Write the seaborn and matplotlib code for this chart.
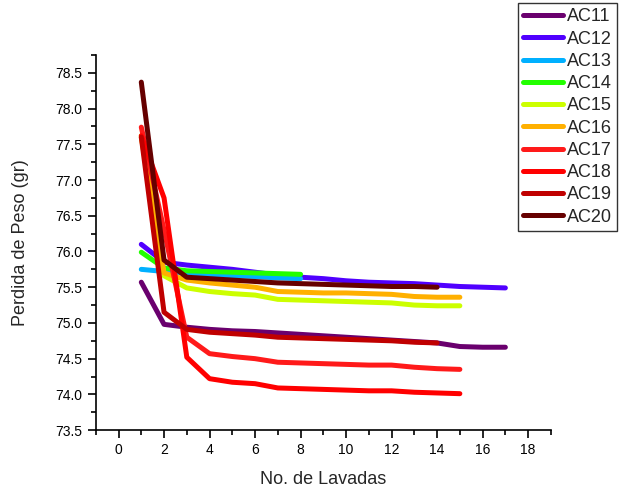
import matplotlib
matplotlib.use("Agg")
import matplotlib.pyplot as plt
import seaborn as sns
import pandas as pd

sns.set_theme(style="white")
plt.rcParams['font.family'] = ['Liberation Sans', 'DejaVu Sans']

labels = ["AC11", "AC12", "AC13", "AC14", "AC15", "AC16", "AC17", "AC18", "AC19", "AC20"]
colors = ["#6a006e", "#5000ff", "#00b0ff", "#22ff00", "#ccff00",
          "#ffb000", "#ff1a1a", "#ff0000", "#c00000", "#660000"]

ac11 = [75.57, 74.98, 74.94, 74.91, 74.89, 74.88, 74.86, 74.84, 74.82, 74.80, 74.78, 74.76, 74.74, 74.72, 74.67, 74.66, 74.66]
ac12 = [76.10, 75.85, 75.81, 75.78, 75.75, 75.71, 75.67, 75.64, 75.62, 75.59, 75.57, 75.56, 75.55, 75.53, 75.51, 75.50, 75.49]
ac13 = [75.75, 75.72, 75.70, 75.68, 75.66, 75.65, 75.63, 75.62]
ac14 = [75.99, 75.77, 75.73, 75.72, 75.71, 75.70, 75.69, 75.68]
ac15 = [77.62, 75.66, 75.49, 75.44, 75.41, 75.39, 75.33, 75.32, 75.31, 75.30, 75.29, 75.28, 75.25, 75.24, 75.24]
ac16 = [77.60, 75.70, 75.60, 75.56, 75.53, 75.50, 75.44, 75.43, 75.42, 75.42, 75.41, 75.40, 75.37, 75.36, 75.36]
ac17 = [77.74, 76.30, 74.80, 74.57, 74.53, 74.50, 74.45, 74.44, 74.43, 74.42, 74.41, 74.41, 74.38, 74.36, 74.35]
ac18 = [77.62, 76.75, 74.52, 74.22, 74.17, 74.15, 74.09, 74.08, 74.07, 74.06, 74.05, 74.05, 74.03, 74.02, 74.01]
ac19 = [77.60, 75.15, 74.91, 74.87, 74.85, 74.83, 74.80, 74.79, 74.78, 74.77, 74.76, 74.75, 74.73, 74.72]
ac20 = [78.37, 75.88, 75.64, 75.62, 75.60, 75.58, 75.56, 75.55, 75.54, 75.53, 75.52, 75.51, 75.51, 75.50]

series = [ac11, ac12, ac13, ac14, ac15, ac16, ac17, ac18, ac19, ac20]

rows = []
for lab, vals in zip(labels, series):
    for i, v in enumerate(vals):
        rows.append({"Lavada": i + 1, "Peso": v, "Serie": lab})
df = pd.DataFrame(rows)

fig = plt.figure(figsize=(6.26, 4.91), dpi=100)
ax = fig.add_axes([0.153, 0.124, 0.727, 0.764])

sns.lineplot(data=df, x="Lavada", y="Peso", hue="Serie", hue_order=labels,
             palette=colors, linewidth=3.6, ax=ax, legend=True, sort=False)

ax.set_xlim(-1, 19)
ax.set_ylim(73.5, 78.75)
ax.set_xticks(range(0, 19, 2))
ax.set_xticks(range(-1, 20, 1), minor=True)
yt = [73.5 + 0.5 * i for i in range(11)]
ax.set_yticks(yt)
ax.set_yticklabels([f"{v:.1f}" for v in yt])
ax.set_yticks([73.5 + 0.25 * i for i in range(22)], minor=True)

for s in ["top", "right"]:
    ax.spines[s].set_visible(False)
for s in ["left", "bottom"]:
    ax.spines[s].set_color("black")
    ax.spines[s].set_linewidth(1.2)

ax.tick_params(which="major", direction="out", length=6, width=1.2, colors="black",
               labelsize=10, left=True, bottom=True)
ax.tick_params(which="minor", direction="out", length=3.5, width=1.2, colors="black",
               left=True, bottom=True)

ax.set_xlabel("No. de Lavadas", fontsize=13, labelpad=10)
ax.set_ylabel("Perdida de Peso (gr)", fontsize=13, labelpad=19)

h, l = ax.get_legend_handles_labels()
ax.get_legend().remove()
leg = fig.legend(h, l, loc="upper left", bbox_to_anchor=(518 / 626, 1 - 3 / 491),
                 bbox_transform=fig.transFigure, fontsize=13, frameon=True,
                 fancybox=False, edgecolor="black", handlelength=2.2,
                 handletextpad=0.2, labelspacing=0.29, borderpad=0.3,
                 borderaxespad=0)
leg.get_frame().set_linewidth(1.0)
for line in leg.get_lines():
    line.set_linewidth(3.6)

fig.savefig("out.png", dpi=100)
